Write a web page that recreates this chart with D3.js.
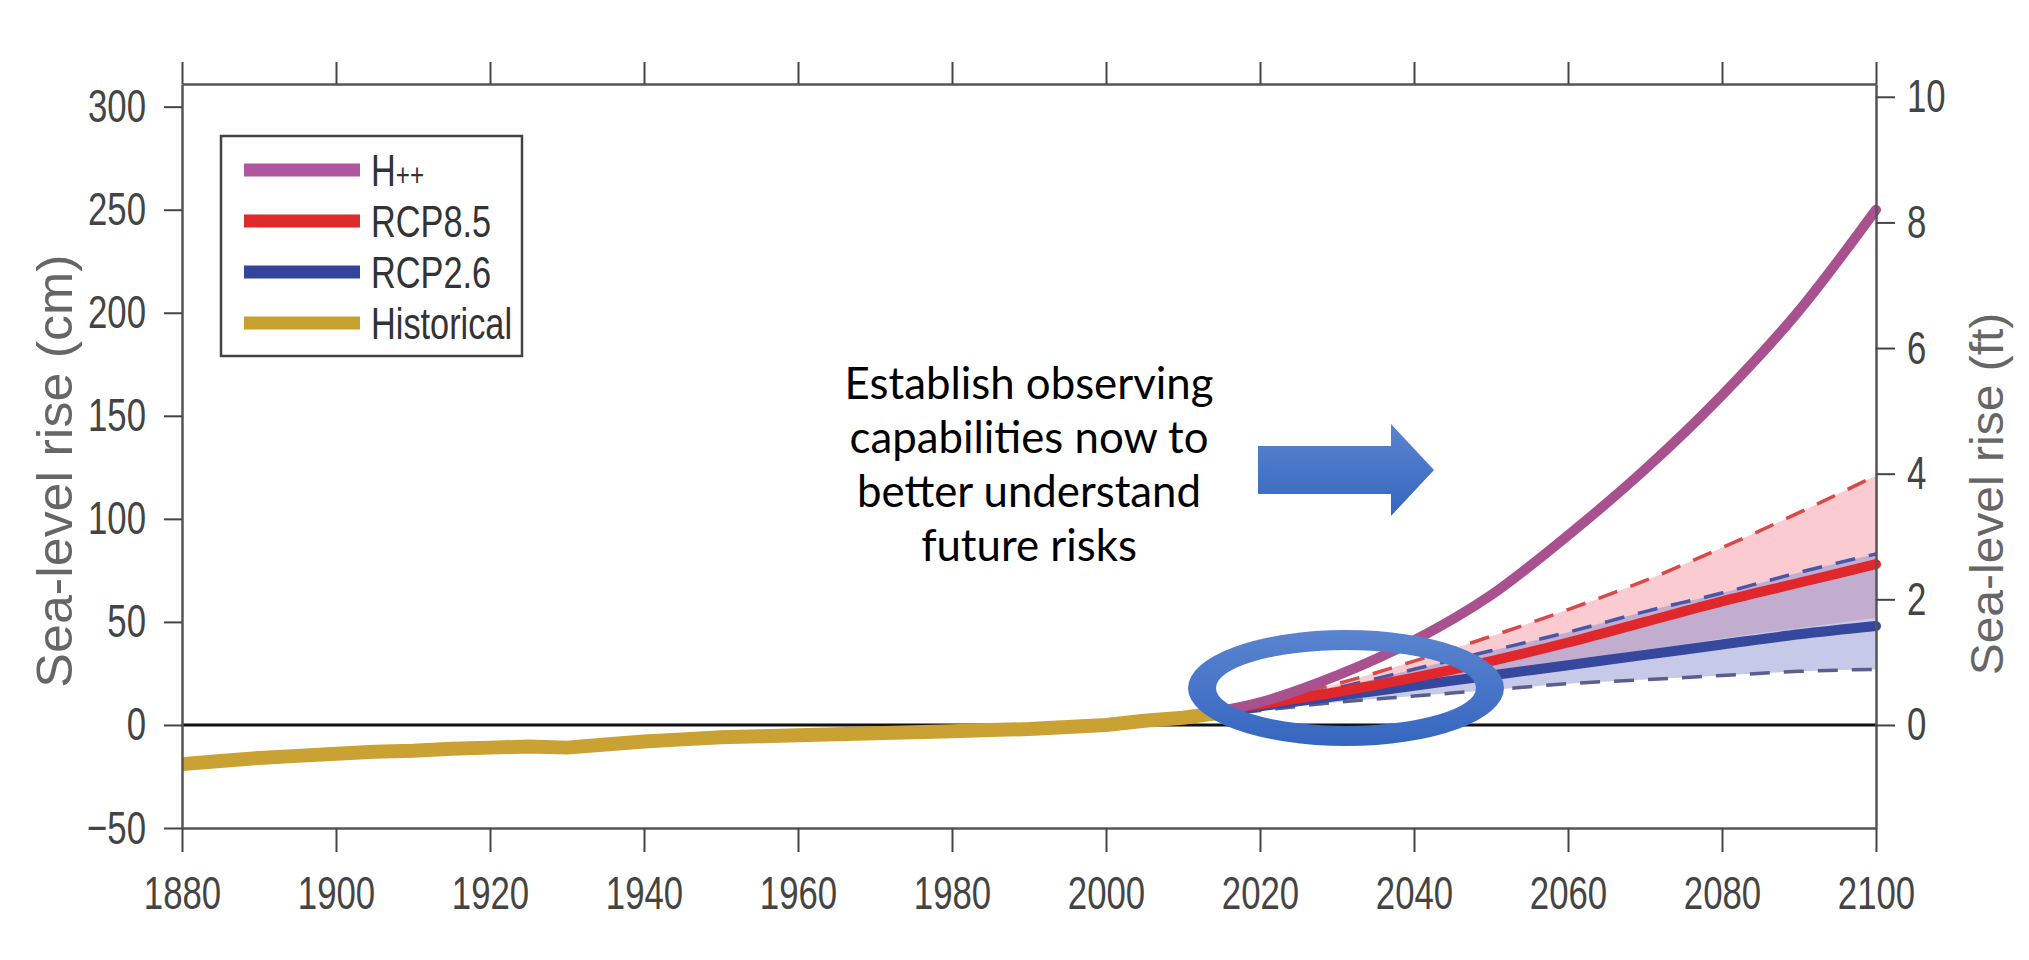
<!DOCTYPE html>
<html><head><meta charset="utf-8">
<script src="https://cdn.jsdelivr.net/npm/d3@7"></script>
<style>body{margin:0;background:#fff;} svg{display:block;}</style>
</head><body>
<svg id="chart" width="2029" height="960"></svg>
<script>
// ---------------- DATA ----------------
const histYears  = [1880,1885,1890,1895,1900,1905,1910,1915,1920,1925,1930,1935,1940,1945,1950,1955,1960,1965,1970,1975,1980,1985,1990,1995,2000,2005,2010,2015];
const histValues = [-19,-17.5,-16,-15,-14,-13,-12.5,-11.5,-11,-10.5,-11,-9.5,-8,-7,-6,-5.5,-5,-4.5,-4,-3.5,-3,-2.5,-2,-1,0,2,3.5,6];

const projYears   = [2000,2010,2020,2030,2040,2050,2060,2070,2080,2090,2100];
const hppValues   = [0,4,11,24,41,63,92,124,160,201,250];
const rcp85Values = [0,4,10,16,23,31,40,50,60,69,78];
const rcp85Upper  = [0,5,12,20,31,43,56,70,86,103,121];
const rcp85Lower  = [0,3,8,13,18,24,30,36,42,47,52];
const rcp26Values = [0,4,9,14,19,24,29,34,39,44,48];
const rcp26Upper  = [0,5,11,18,27,36,45,55,64,74,83];
const rcp26Lower  = [0,3,7,11,14,17,20,22,24,26,27];

const xTicks   = [1880,1900,1920,1940,1960,1980,2000,2020,2040,2060,2080,2100];
const yTicksCm = [-50,0,50,100,150,200,250,300];
const yTicksFt = [0,2,4,6,8,10];
const legendLabels = ["H++","RCP8.5","RCP2.6","Historical"];
const legendColors = ["#b0569f","#dd2a2a","#34449a","#c8a02e"];
const annotationLines = ["Establish observing","capabilities now to","better understand","future risks"];
const leftTitle  = "Sea-level rise (cm)";
const rightTitle = "Sea-level rise (ft)";

// ---------------- CHART ----------------
const svg = d3.select("#chart");
const FONT = "'Liberation Sans', Arial, Helvetica, sans-serif";
const SQ = 0.74; // horizontal squeeze of the original figure's text

const x = d3.scaleLinear().domain([1880,2100]).range([182,1876]);
const y = d3.scaleLinear().domain([-50,311]).range([828,84]);
const yFt = d3.scaleLinear().domain([-50/30.48, 311/30.48]).range([828,84]);

const defs = svg.append("defs");
const g1 = defs.append("linearGradient").attr("id","blueGrad").attr("x1",0).attr("y1",0).attr("x2",0).attr("y2",1);
g1.append("stop").attr("offset","0%").attr("stop-color","#5a84cf");
g1.append("stop").attr("offset","100%").attr("stop-color","#3566c0");

const plot = svg.append("g");

// bands
const proj = projYears.map((yr,i)=>({yr, hpp:hppValues[i], r85:rcp85Values[i], r85u:rcp85Upper[i], r85l:rcp85Lower[i], r26:rcp26Values[i], r26u:rcp26Upper[i], r26l:rcp26Lower[i]}));
const curve = d3.curveMonotoneX;
plot.append("path").datum(proj)
  .attr("d", d3.area().curve(curve).x(d=>x(d.yr)).y0(d=>y(d.r85l)).y1(d=>y(d.r85u)))
  .attr("fill","#f59aa6").attr("fill-opacity",0.5);
plot.append("path").datum(proj)
  .attr("d", d3.area().curve(curve).x(d=>x(d.yr)).y0(d=>y(d.r26l)).y1(d=>y(d.r26u)))
  .attr("fill","#8088cc").attr("fill-opacity",0.45);

// zero line
plot.append("line").attr("x1",x(1880)).attr("x2",x(2100)).attr("y1",y(0)).attr("y2",y(0))
  .attr("stroke","#111").attr("stroke-width",3);

function drawLine(key,color,width,dash){
  plot.append("path").datum(proj)
    .attr("d", d3.line().curve(curve).x(d=>x(d.yr)).y(d=>y(d[key])))
    .attr("fill","none").attr("stroke",color).attr("stroke-width",width)
    .attr("stroke-dasharray",dash||null).attr("stroke-linecap", dash?"butt":"round");
}
drawLine("r85u","#d84a4a",3.5,"20 14");
drawLine("r26u","#4a56a8",3.5,"20 14");
drawLine("r26l","#5a5e8e",3.5,"20 14");
drawLine("r26","#36479e",10);
drawLine("r85","#e0282c",10);
drawLine("hpp","#a9508f",10);

// historical
const hist = histYears.map((yr,i)=>({yr, v:histValues[i]}));
plot.append("path").datum(hist)
  .attr("d", d3.line().x(d=>x(d.yr)).y(d=>y(d.v)))
  .attr("fill","none").attr("stroke","#c9a233").attr("stroke-width",14).attr("stroke-linejoin","round");

// axes
function styleAxis(g){
  g.select(".domain").attr("stroke","#555").attr("stroke-width",2.5);
  g.selectAll(".tick line").attr("stroke","#444").attr("stroke-width",2);
  g.selectAll(".tick text").attr("fill","#444").style("font-family",FONT).style("font-size","47px");
}
const axB = svg.append("g").attr("transform",`translate(0,${y(-50)})`)
  .call(d3.axisBottom(x).tickValues(xTicks).tickSize(24).tickSizeOuter(0).tickPadding(24).tickFormat(d3.format("d")));
styleAxis(axB);
axB.selectAll(".tick text").attr("transform",`scale(${SQ},1)`);

const axT = svg.append("g").attr("transform",`translate(0,${y(311)})`)
  .call(d3.axisTop(x).tickValues(xTicks).tickSize(22).tickSizeOuter(0).tickFormat(""));
styleAxis(axT);

const axL = svg.append("g").attr("transform",`translate(${x(1880)},0)`)
  .call(d3.axisLeft(y).tickValues(yTicksCm).tickSize(18).tickSizeOuter(0));
styleAxis(axL);
axL.selectAll(".tick text").attr("x",null).attr("transform",`translate(-36,0) scale(${SQ},1)`);

const axR = svg.append("g").attr("transform",`translate(${x(2100)},0)`)
  .call(d3.axisRight(yFt).tickValues(yTicksFt).tickSize(19).tickSizeOuter(0));
styleAxis(axR);
axR.selectAll(".tick text").attr("x",null).attr("transform",`translate(31,0) scale(${SQ},1)`);

// axis titles
svg.append("text").text(leftTitle)
  .attr("transform",`translate(72,471) scale(0.95,1) rotate(-90)`)
  .attr("text-anchor","middle").style("font-family",FONT).style("font-size","52px").attr("fill","#666");
svg.append("text").text(rightTitle)
  .attr("transform",`translate(2003,494) scale(0.95,1) rotate(-90)`)
  .attr("text-anchor","middle").style("font-family",FONT).style("font-size","48px").attr("fill","#666");

// legend
const leg = svg.append("g");
leg.append("rect").attr("x",221).attr("y",136).attr("width",301).attr("height",220)
  .attr("fill","#fff").attr("stroke","#444").attr("stroke-width",2.5);
const rowY = d3.scalePoint().domain(legendLabels).range([170,323]);
legendLabels.forEach((lab,i)=>{
  const ry = rowY(lab);
  leg.append("line").attr("x1",244).attr("x2",360).attr("y1",ry).attr("y2",ry)
    .attr("stroke",legendColors[i]).attr("stroke-width",13);
  const t = leg.append("text").attr("transform",`translate(371,${ry+16}) scale(0.78,1)`)
    .style("font-family",FONT).style("font-size","44px").attr("fill","#333");
  if(lab==="H++"){
    t.append("tspan").text("H");
    t.append("tspan").text("++").style("font-size","31px");
  } else t.text(lab);
});

// annotation text
const ann = svg.append("g");
const annFont = "Lato, 'Open Sans', sans-serif";
const lineY = d3.scalePoint().domain(annotationLines).range([399,561]);
const texts = annotationLines.map(l => ann.append("text").text(l)
  .attr("x",1029).attr("y",lineY(l)).attr("text-anchor","middle")
  .style("font-family",annFont).style("font-size","44px").attr("fill","#000"));
const w0 = texts[0].node().getComputedTextLength();
const fs = 44*369/w0;
texts.forEach(t=>t.style("font-size",fs+"px"));

// arrow
ann.append("path")
  .attr("d", d3.line()([[1258,446],[1391,446],[1391,424],[1434,470],[1391,516],[1391,494],[1258,494]]) + "Z")
  .attr("fill","url(#blueGrad)");

// ellipse ring
const cx=1346, cy=688;
function ell(rx,ry){return `M${cx-rx},${cy} a${rx},${ry} 0 1,0 ${2*rx},0 a${rx},${ry} 0 1,0 ${-2*rx},0 Z`;}
ann.append("path").attr("d", ell(158,58)+ell(130,38)).attr("fill-rule","evenodd").attr("fill","url(#blueGrad)");
</script>
</body></html>
